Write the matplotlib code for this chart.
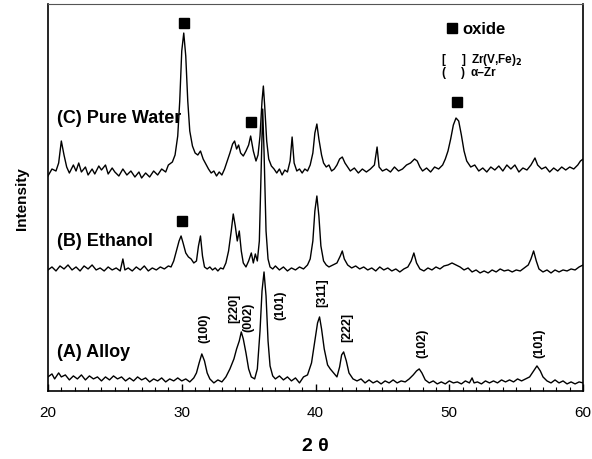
import matplotlib
matplotlib.use('Agg')
import matplotlib.pyplot as plt
from matplotlib.ticker import MultipleLocator

plt.rcParams['font.family'] = ['Liberation Sans', 'DejaVu Sans']

# (C) Pure Water
c_x = [20.0, 20.3, 20.6, 20.8, 21.0, 21.2, 21.4, 21.6, 21.9, 22.1, 22.3, 22.5, 22.8, 23.0, 23.3, 23.5,
       23.8, 24.0, 24.3, 24.5, 24.8, 25.0, 25.3, 25.6, 25.9, 26.2, 26.5, 26.8, 27.0, 27.3, 27.6, 27.9,
       28.2, 28.5, 28.8, 29.0, 29.3, 29.5, 29.7, 29.85, 30.0, 30.15, 30.3, 30.45, 30.6, 30.8, 31.0,
       31.2, 31.4, 31.6, 31.8, 32.0, 32.2, 32.4, 32.6, 32.8, 33.0, 33.2, 33.4, 33.6, 33.8, 33.95, 34.1,
       34.25, 34.4, 34.6, 34.8, 35.0, 35.15, 35.35, 35.55, 35.7, 35.85, 36.0, 36.1, 36.2, 36.35, 36.5,
       36.7, 36.9, 37.1, 37.3, 37.5, 37.7, 37.9, 38.1, 38.25, 38.4, 38.6, 38.8, 39.0, 39.2, 39.4, 39.6,
       39.8, 39.95, 40.1, 40.25, 40.45, 40.6, 40.8, 41.0, 41.2, 41.4, 41.6, 41.8, 42.0, 42.2, 42.4,
       42.6, 42.9, 43.2, 43.5, 43.8, 44.1, 44.4, 44.6, 44.75, 45.0, 45.3, 45.6, 45.9, 46.2, 46.5, 46.8,
       47.1, 47.4, 47.6, 47.8, 48.0, 48.3, 48.6, 48.9, 49.2, 49.5, 49.7, 49.9, 50.1, 50.3, 50.5, 50.7,
       50.9, 51.1, 51.3, 51.6, 51.9, 52.2, 52.5, 52.8, 53.1, 53.4, 53.7, 54.0, 54.3, 54.6, 54.9, 55.2,
       55.5, 55.8, 56.1, 56.4, 56.6, 56.9, 57.2, 57.5, 57.8, 58.1, 58.4, 58.7, 59.0, 59.3, 59.6, 59.8, 60.0]
c_y = [215, 222, 220, 228, 250, 236, 224, 218, 226, 220, 228, 219, 224, 216, 222, 217,
       225, 221, 226, 217, 223, 219, 215, 222, 216, 220, 214, 219, 213, 218, 214, 220,
       216, 222, 219, 226, 229, 236, 255, 290, 340, 358, 335, 290, 260, 245, 238,
       236, 240, 232, 227, 222, 218, 220, 215, 219, 216, 222, 230, 238, 247, 250, 242,
       246, 238, 235, 240, 246, 255, 240, 230, 236, 255, 290, 305, 285, 250, 232,
       225, 222, 218, 222, 216, 221, 219, 230, 254, 228, 220, 222, 218, 222, 220, 226,
       238, 258, 267, 252, 236, 228, 224, 226, 220, 222, 226, 232, 234, 228, 224,
       220, 223, 218, 222, 219, 222, 226, 244, 224, 220, 222, 219, 224, 220, 222, 226,
       228, 232, 230, 224, 220, 223, 219, 224, 222, 226, 232, 240, 252, 266, 273, 270,
       256, 240, 230, 224, 226, 220, 223, 219, 224, 221, 225, 220, 226, 222, 226, 219,
       223, 221, 226, 233, 226, 222, 224, 219, 223, 220, 224, 221, 224, 222, 226, 230, 232]

# (B) Ethanol
b_x = [20.0, 20.3, 20.6, 20.9, 21.2, 21.5, 21.8, 22.1, 22.4, 22.7, 23.0, 23.3, 23.6, 23.9, 24.2, 24.5,
       24.8, 25.1, 25.4, 25.6, 25.75, 26.0, 26.3, 26.6, 26.9, 27.2, 27.5, 27.8, 28.1, 28.4, 28.7, 29.0,
       29.2, 29.4, 29.6, 29.8, 29.95, 30.1, 30.3, 30.5, 30.7, 30.9, 31.1, 31.25, 31.4, 31.55, 31.7,
       31.9, 32.1, 32.3, 32.5, 32.7, 32.9, 33.1, 33.3, 33.5, 33.7, 33.85, 34.0, 34.15, 34.3, 34.45,
       34.6, 34.8, 35.0, 35.2, 35.35, 35.5, 35.65, 35.8, 35.95, 36.05, 36.15, 36.3, 36.45, 36.6, 36.8,
       37.0, 37.3, 37.6, 37.9, 38.2, 38.5, 38.8, 39.1, 39.4, 39.6, 39.8, 39.95, 40.1, 40.25, 40.4,
       40.6, 40.8, 41.0, 41.3, 41.6, 41.85, 42.0, 42.15, 42.4, 42.7, 43.0, 43.3, 43.6, 43.9, 44.2,
       44.5, 44.8, 45.1, 45.4, 45.7, 46.0, 46.3, 46.6, 46.9, 47.15, 47.35, 47.55, 47.8, 48.1, 48.4,
       48.7, 49.0, 49.3, 49.6, 49.9, 50.2, 50.5, 50.8, 51.1, 51.4, 51.7, 52.0, 52.3, 52.6, 52.9, 53.2,
       53.5, 53.8, 54.1, 54.4, 54.7, 55.0, 55.3, 55.6, 55.9, 56.1, 56.3, 56.5, 56.7, 57.0, 57.3, 57.6,
       57.9, 58.2, 58.5, 58.8, 59.1, 59.4, 59.7, 60.0]
b_y = [121, 124, 120, 125, 122, 126, 121, 124, 120, 125, 122, 126, 121, 123, 120, 124,
       121, 123, 120, 132, 121, 123, 120, 124, 121, 125, 120, 123, 121, 124, 122, 125,
       124, 130, 140, 150, 155, 148, 138, 134, 132, 128, 130, 145, 155, 135, 124,
       122, 124, 121, 123, 120, 123, 122, 128, 140, 160, 177, 165, 150, 160, 140,
       128, 124, 130, 138, 128, 137, 130, 150, 230, 282, 240, 160, 132, 124, 122,
       125, 121, 124, 120, 123, 121, 124, 122, 126, 132, 150, 180, 195, 175, 145,
       130, 126, 124, 126, 128, 135, 140, 132, 126, 123, 125, 122, 124, 121, 123,
       120, 124, 121, 123, 120, 122, 119, 122, 124, 130, 138, 128, 122, 120, 123,
       121, 124, 122, 125, 126, 128, 126, 124, 121, 123, 119, 121, 118, 120, 118, 121,
       119, 122, 120, 121, 119, 121, 120, 123, 126, 132, 140, 130, 122, 119, 121, 118,
       121, 119, 121, 120, 122, 121, 124, 126]

# (A) Alloy
a_x = [20.0, 20.3, 20.5, 20.8, 21.0, 21.3, 21.6, 21.9, 22.2, 22.5, 22.8, 23.1, 23.4, 23.7, 24.0, 24.3,
       24.6, 24.9, 25.2, 25.5, 25.8, 26.1, 26.4, 26.7, 27.0, 27.3, 27.6, 27.9, 28.2, 28.5, 28.8, 29.1,
       29.4, 29.7, 30.0, 30.3, 30.6, 30.9, 31.1, 31.3, 31.5, 31.7, 31.9, 32.1, 32.4, 32.7, 33.0, 33.3,
       33.6, 33.9, 34.1, 34.3, 34.45, 34.6, 34.8, 35.0, 35.2, 35.45, 35.65, 35.85, 36.0, 36.15, 36.3,
       36.45, 36.6, 36.8, 37.0, 37.3, 37.6, 37.9, 38.2, 38.5, 38.8, 39.1, 39.4, 39.7, 39.95, 40.15,
       40.3, 40.45, 40.65, 40.9, 41.1, 41.35, 41.6, 41.8, 41.95, 42.1, 42.3, 42.5, 42.8, 43.1, 43.4,
       43.7, 44.0, 44.3, 44.6, 44.9, 45.2, 45.5, 45.8, 46.1, 46.4, 46.7, 47.0, 47.3, 47.55, 47.75,
       47.95, 48.2, 48.5, 48.8, 49.1, 49.4, 49.7, 50.0, 50.3, 50.6, 50.9, 51.2, 51.5, 51.7, 51.85,
       52.1, 52.4, 52.7, 53.0, 53.3, 53.6, 53.9, 54.2, 54.5, 54.8, 55.1, 55.4, 55.7, 56.0, 56.3, 56.55,
       56.8, 57.0, 57.3, 57.6, 57.9, 58.2, 58.5, 58.8, 59.1, 59.4, 59.7, 60.0]
a_y = [14, 17, 12, 18, 14, 16, 11, 15, 12, 16, 11, 15, 12, 14, 10, 14,
       11, 15, 12, 14, 10, 13, 10, 14, 11, 13, 9, 12, 10, 13, 9, 12,
       10, 13, 10, 12, 9, 13, 18, 28, 37, 30, 18, 12, 8, 11, 9, 14,
       22, 32, 42, 50, 59, 52, 38, 22, 14, 12, 22, 60, 100, 119, 95,
       50, 25, 15, 12, 15, 11, 14, 10, 13, 8, 14, 16, 28, 50, 68,
       74, 62, 42, 26, 22, 18, 14, 24, 36, 39, 30, 18, 12, 10, 12,
       8, 11, 8, 10, 7, 10, 8, 11, 8, 10, 9, 12, 16, 20, 22,
       18, 11, 8, 10, 7, 9, 7, 10, 8, 9, 7, 10, 8, 13, 8,
       9, 7, 10, 8, 10, 8, 11, 9, 11, 9, 12, 10, 12, 14, 20, 25,
       20, 14, 10, 8, 11, 8, 10, 7, 9, 7, 9, 8]

sample_labels = ['(C) Pure Water', '(B) Ethanol', '(A) Alloy']
sample_label_y = [274, 150, 39]

oxide_x = [30.2, 35.2, 50.6, 30.0]
oxide_y = [368, 269, 289, 170]

peak_labels = ['(100)', '[220]', '(002)', '(101)', '[311]', '[222]', '(102)', '(101)']
peak_label_x = [31.7, 33.9, 35.0, 37.4, 40.5, 42.4, 48.0, 56.7]
peak_label_y = [64, 84, 75, 87, 99, 65, 49, 49]

fig = plt.figure(figsize=(5.92, 4.60), dpi=100)
ax = fig.add_axes([0.081, 0.148, 0.904, 0.841])

for xs, ys in [(c_x, c_y), (b_x, b_y), (a_x, a_y)]:
    ax.plot(xs, ys, color='black', lw=1.0)

ax.plot(oxide_x, oxide_y, 's', color='black', ms=7)

for lab, ly in zip(sample_labels, sample_label_y):
    ax.text(20.7, ly, lab, fontsize=13, fontweight='bold', va='center', ha='left')

for lab, px, py in zip(peak_labels, peak_label_x, peak_label_y):
    ax.text(px, py, lab, fontsize=9, fontweight='bold', rotation=90,
            ha='center', va='center')

# legend
ax.plot([50.2], [363], 's', color='black', ms=7)
ax.text(51.0, 363, 'oxide', fontsize=12, fontweight='bold', va='center')
ax.text(49.4, 332, '[', fontsize=8.5, fontweight='bold', va='center')
ax.text(50.9, 332, ']', fontsize=8.5, fontweight='bold', va='center')
ax.text(51.6, 332, 'Zr(V,Fe)$_\\mathbf{2}$', fontsize=8.5, fontweight='bold', va='center')
ax.text(49.4, 319, '(', fontsize=8.5, fontweight='bold', va='center')
ax.text(50.9, 319, ')', fontsize=8.5, fontweight='bold', va='center')
ax.text(51.6, 319, 'α–Zr', fontsize=8.5, fontweight='bold', va='center')

ax.set_xlim(20, 60)
ax.set_ylim(0, 387)
ax.xaxis.set_major_locator(MultipleLocator(10))
ax.xaxis.set_minor_locator(MultipleLocator(1))
ax.tick_params(axis='x', which='major', direction='in', length=5, width=1, labelsize=11, pad=10)
ax.tick_params(axis='x', which='minor', direction='in', length=3, width=0.8)
ax.set_yticks([])
for s in ax.spines.values():
    s.set_linewidth(1.2)
ax.spines['top'].set_color('#555555')
ax.spines['top'].set_linewidth(0.8)

ax.set_xlabel('2 θ', fontsize=14, fontweight='bold', labelpad=13)
ax.set_ylabel('Intensity', fontsize=11, fontweight='bold', labelpad=14)

plt.savefig('out.png', dpi=100)
